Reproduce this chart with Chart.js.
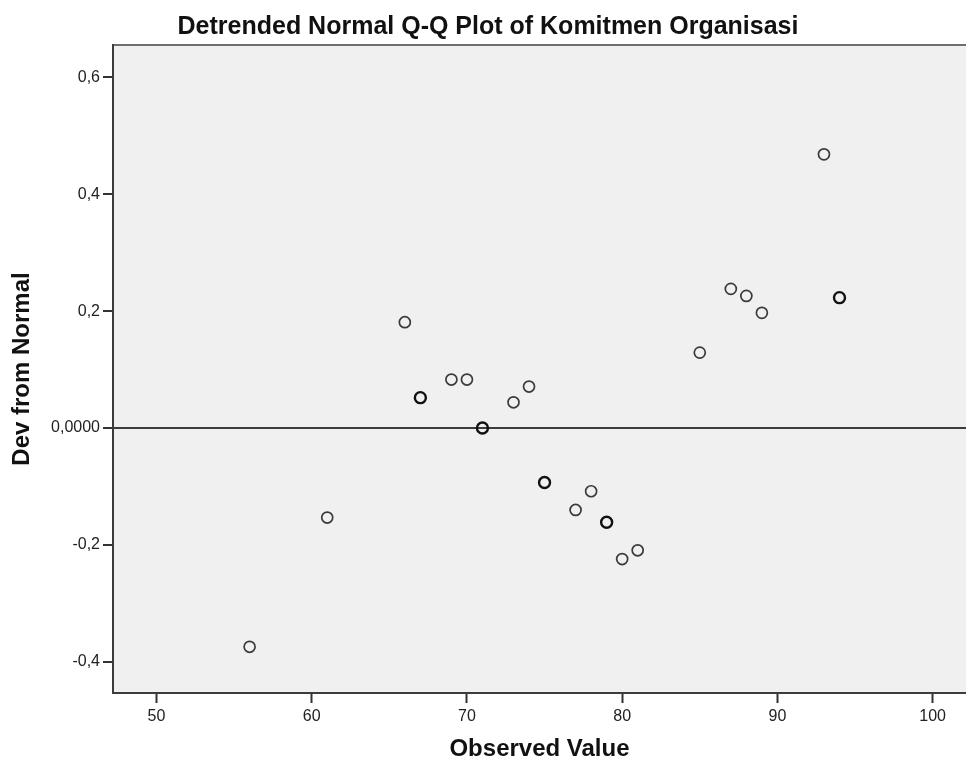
<!DOCTYPE html>
<html>
<head>
<meta charset="utf-8">
<title>Detrended Normal Q-Q Plot of Komitmen Organisasi</title>
<script src="https://cdn.jsdelivr.net/npm/chart.js@4.4.1/dist/chart.umd.min.js"></script>
<style>
  html, body { margin: 0; padding: 0; background: #ffffff; }
  #wrap { width: 966px; height: 769px; overflow: hidden; }
</style>
</head>
<body>
<div id="wrap"><canvas id="qqChart" width="966" height="769"></canvas></div>
<script>
// observed values and their deviation from normal
const observed = [56, 61, 66, 67, 69, 70, 71, 73, 74, 75, 77, 78, 79, 80, 81, 85, 87, 88, 89, 93, 94];
const devFromNormal = [-0.374, -0.153, 0.181, 0.052, 0.083, 0.083, 0.000, 0.044, 0.071, -0.093, -0.140,
  -0.108, -0.161, -0.224, -0.209, 0.129, 0.238, 0.226, 0.197, 0.468, 0.223];
// how many cases sit on each point (tied values draw darker)
const ties = [1, 1, 1, 2, 1, 1, 2, 1, 1, 2, 1, 1, 2, 1, 1, 1, 1, 1, 1, 1, 2];

const xTicks = [50, 60, 70, 80, 90, 100];
const yTicks = [-0.4, -0.2, 0, 0.2, 0.4, 0.6];
const yTickLabels = ["-0,4", "-0,2", "0,0000", "0,2", "0,4", "0,6"];

const chartTitle = "Detrended Normal Q-Q Plot of Komitmen Organisasi";

const points = observed.map((x, i) => ({ x: x, y: devFromNormal[i] }));

const FONT = "'Liberation Sans', Arial, sans-serif";

// grey plot background, top frame line and the main title
const plotBg = {
  id: "plotBg",
  beforeDraw(chart) {
    const { ctx, chartArea: a } = chart;
    ctx.save();
    ctx.fillStyle = "#f0f0f0";
    ctx.fillRect(a.left, a.top, a.right - a.left, a.bottom - a.top);
    ctx.strokeStyle = "#6e6e6e";
    ctx.lineWidth = 2;
    ctx.beginPath();
    ctx.moveTo(a.left, a.top);
    ctx.lineTo(a.right, a.top);
    ctx.stroke();
    // title sits over the page, not the (cropped) plot box
    ctx.fillStyle = "#111111";
    ctx.font = "bold 25px " + FONT;
    ctx.textAlign = "center";
    ctx.textBaseline = "alphabetic";
    ctx.fillText(chartTitle, 488, 34);
    ctx.restore();
  }
};

new Chart(document.getElementById("qqChart").getContext("2d"), {
  type: "scatter",
  data: {
    datasets: [{
      label: "Komitmen Organisasi",
      data: points,
      pointStyle: "circle",
      pointRadius: 5.5,
      pointHoverRadius: 5.5,
      backgroundColor: "rgba(0,0,0,0)",
      borderColor: (c) => ties[c.dataIndex] > 1 ? "#111111" : "#3a3a3a",
      borderWidth: (c) => ties[c.dataIndex] > 1 ? 2.4 : 1.7
    }]
  },
  options: {
    responsive: false,
    animation: false,
    layout: { autoPadding: false, padding: { left: 0, right: 0, top: 45, bottom: 0 } },
    plugins: {
      legend: { display: false },
      tooltip: { enabled: false },
      title: { display: false }
    },
    scales: {
      x: {
        type: "linear",
        min: 47.2,
        max: 102.15,
        afterFit: (s) => { s.height = 76; },
        afterBuildTicks: (s) => { s.ticks = xTicks.map(v => ({ value: v })); },
        ticks: {
          color: "#222222",
          font: { family: FONT, size: 16 },
          padding: 4,
          maxRotation: 0
        },
        grid: { display: true, drawOnChartArea: false, drawTicks: true, tickLength: 10, tickColor: "#333333", tickWidth: 2 },
        border: { display: true, color: "#3c3c3c", width: 2 },
        title: {
          display: true,
          text: "Observed Value",
          color: "#111111",
          font: { family: FONT, size: 24, weight: "bold" },
          padding: { top: 0, bottom: 5 }
        }
      },
      y: {
        type: "linear",
        min: -0.453,
        max: 0.655,
        afterFit: (s) => { s.width = 113; },
        afterBuildTicks: (s) => { s.ticks = yTicks.map(v => ({ value: v })); },
        ticks: {
          color: "#222222",
          font: { family: FONT, size: 16 },
          padding: 3,
          callback: (v) => {
            const i = yTicks.findIndex(t => Math.abs(t - v) < 1e-9);
            return i >= 0 ? yTickLabels[i] : "";
          }
        },
        grid: {
          display: true,
          drawOnChartArea: true,
          drawTicks: true,
          tickLength: 10,
          tickColor: "#333333",
          tickWidth: 2,
          color: (c) => (c.tick && Math.abs(c.tick.value) < 1e-9) ? "#3c3c3c" : "rgba(0,0,0,0)",
          lineWidth: 2
        },
        border: { display: true, color: "#3c3c3c", width: 2 },
        title: {
          display: true,
          text: "Dev from Normal",
          color: "#111111",
          font: { family: FONT, size: 24, weight: "bold" },
          padding: { top: 8, bottom: 0 }
        }
      }
    }
  },
  plugins: [plotBg]
});
</script>
</body>
</html>
